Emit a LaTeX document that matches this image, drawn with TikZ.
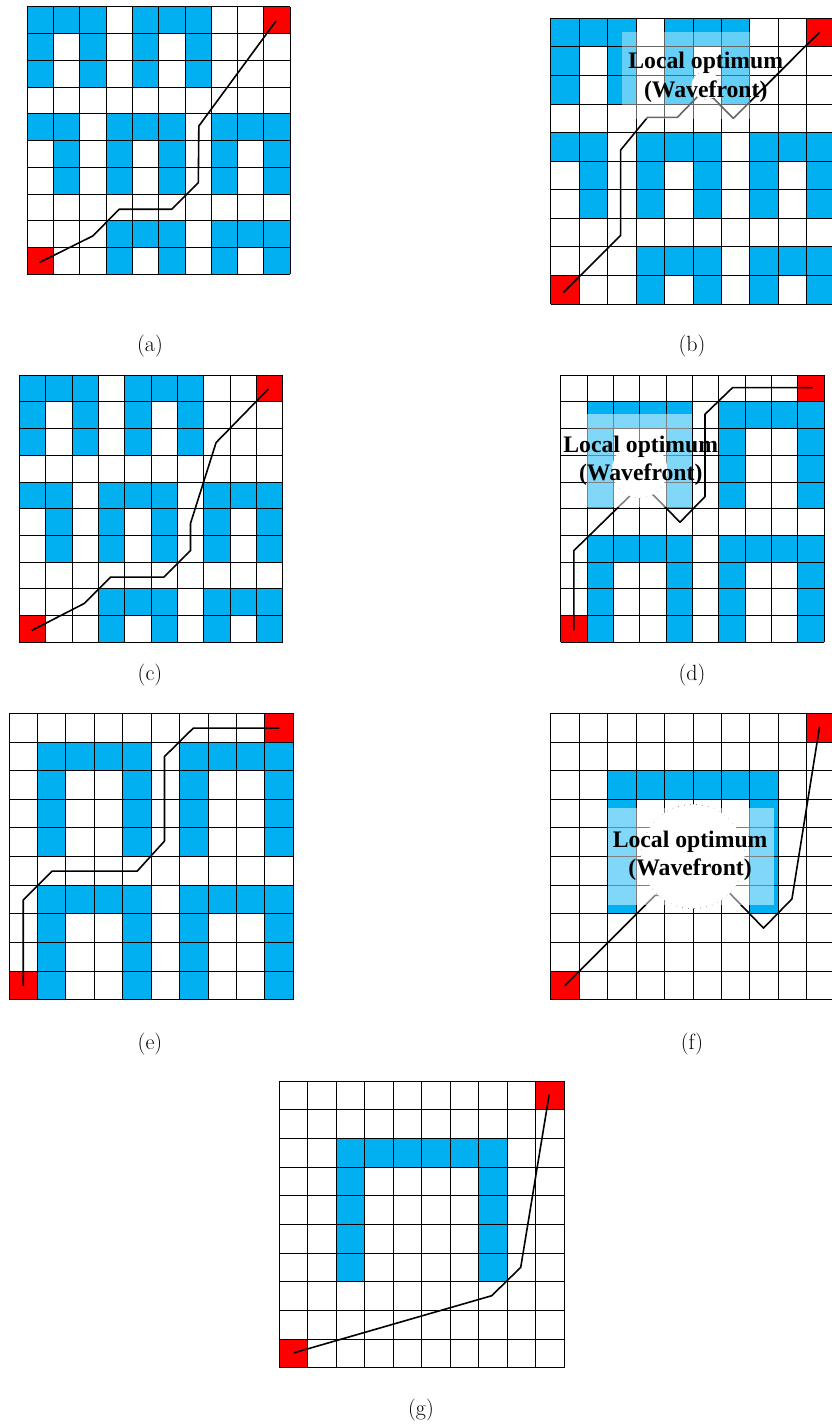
\documentclass[tikz,border=0pt]{standalone}
\usepackage{fontspec}
\newfontfamily\lblfont{Liberation Serif}
\definecolor{cellblue}{RGB}{0,176,240}
\definecolor{cellred}{RGB}{255,0,0}
\tikzset{
  bluecell/.style={fill=cellblue},
  redcell/.style={fill=cellred},
  gridln/.style={draw=black, line width=0.8pt},
  pathln/.style={draw=black, line width=1.6pt, line join=round},
  haze/.style={fill=white, fill opacity=0.5},
  optcircle/.style={fill=white, draw=gray, line width=1pt, dash pattern=on 0.01pt off 6pt, line cap=round},
  optlabel/.style={font=\lblfont\bfseries\fontsize{23.7}{28.3}\selectfont, align=center, text=black, inner sep=0pt},
  caption/.style={font=\fontsize{22}{26}\selectfont, inner sep=0pt},
}
\newcommand\fillrows[1]{\foreach \r/\cs in {#1}{\foreach \c in \cs {\fill[bluecell] (\c-1,10-\r) rectangle (\c,11-\r);}}}
\newcommand\redcorners{\fill[redcell] (0,0) rectangle (1,1); \fill[redcell] (9,9) rectangle (10,10);}
\newcommand\gridlines{\foreach \i in {0,...,10}{\draw[gridln] (\i,0) -- (\i,10); \draw[gridln] (0,\i) -- (10,\i);}}
\newcommand\patA{\fillrows{1/{1,2,3,5,6,7},2/{1,3,5,7},3/{1,3,5,7},5/{1,2,4,5,6,8,9,10},6/{2,4,6,8,10},7/{2,4,6,8,10},9/{4,5,6,8,9,10},10/{4,6,8,10}}}
\newcommand\patD{\fillrows{2/{2,3,4,5,7,8,9,10},3/{2,5,7,10},4/{2,5,7,10},5/{2,5,7,10},7/{2,3,4,5,7,8,9,10},8/{2,5,7,10},9/{2,5,7,10},10/{2,5,7,10}}}
\newcommand\patF{\fillrows{3/{3,4,5,6,7,8},4/{3,8},5/{3,8},6/{3,8},7/{3,8}}}
\begin{document}
\begin{tikzpicture}
\useasboundingbox (0,0) rectangle (831pt,1428pt);
\fill[white] (0,0) rectangle (831pt,1428pt);

% (a)
\begin{scope}[shift={(27.3pt,1153.7pt)}, x=26.27pt, y=26.76pt]
  \patA \redcorners \gridlines
  \draw[pathln] (0.46,0.44) -- (2.49,1.43) -- (3.5,2.43) -- (5.5,2.43) -- (6.51,3.42) -- (6.53,5.54) -- (9.47,9.47);
\end{scope}

% (b)
\begin{scope}[shift={(550.7pt,1124pt)}, x=28.45pt, y=28.57pt]
  \patA \redcorners \gridlines
  \draw[pathln] (0.45,0.4) -- (2.46,2.4) -- (2.46,5.39) -- (3.4,6.53) -- (4.45,6.53) -- (5.2,7.3) -- (5.72,7.2) -- (6.42,6.5) -- (9.0,9.07) -- (9.45,9.5);
  \path[optcircle] (5.45,7.65) circle (0.5);
  \fill[white, fill opacity=0.4] (2.5,6.48) rectangle (7,9.52);
  \node[optlabel] (lblb) at (5.45,7.93) {Local optimum\\(Wavefront)};
\end{scope}

% (c)
\begin{scope}[shift={(19.3pt,785.7pt)}, x=26.34pt, y=26.73pt]
  \patA \redcorners \gridlines
  \draw[pathln] (0.47,0.44) -- (2.46,1.45) -- (3.47,2.44) -- (5.49,2.44) -- (6.5,3.43) -- (6.5,4.45) -- (7.47,7.47) -- (9.46,9.48);
\end{scope}

% (d)
\begin{scope}[shift={(560.7pt,785.7pt)}, x=26.33pt, y=26.73pt]
  \patD \redcorners \gridlines
  \draw[pathln] (0.5,0.45) -- (0.5,3.43) -- (2.6,5.45) -- (3.05,5.9) -- (3.58,5.45) -- (4.53,4.49) -- (5.48,5.45) -- (5.48,8.53) -- (6.53,9.53) -- (9.57,9.53);
  \path[optcircle] (3,6.45) circle (1.05);
  \fill[haze] (1,5.05) rectangle (5,8.55);
  \node[optlabel] (lbld) at (3.04,6.8) {Local optimum\\(Wavefront)};
\end{scope}

% (e)
\begin{scope}[shift={(9pt,428.3pt)}, x=28.43pt, y=28.64pt]
  \patD \redcorners \gridlines
  \draw[pathln] (0.5,0.48) -- (0.5,3.48) -- (1.52,4.49) -- (4.51,4.49) -- (5.47,5.54) -- (5.47,8.49) -- (6.48,9.48) -- (9.51,9.48);
\end{scope}

% (f)
\begin{scope}[shift={(550.7pt,428.3pt)}, x=28.45pt, y=28.64pt]
  \patF \redcorners \gridlines
  \draw[pathln] (0.5,0.49) -- (3.67,3.64) -- (6.25,3.76) -- (7.48,2.5) -- (8.48,3.52) -- (9.45,9.53);
  \path[optcircle] (5,5) circle (1.82);
  \fill[haze] (2,3.31) rectangle (7.85,6.68);
  \node[optlabel] (lblf) at (4.9,5.02) {Local optimum\\(Wavefront)};
\end{scope}

% (g)
\begin{scope}[shift={(279.3pt,60.3pt)}, x=28.47pt, y=28.67pt]
  \patF \redcorners \gridlines
  \draw[pathln] (0.52,0.52) -- (7.46,2.51) -- (8.48,3.5) -- (9.48,9.53);
\end{scope}

\node[caption] (capa) at (150pt,1081.5pt) {(a)};
\node[caption] (capb) at (692pt,1081.5pt) {(b)};
\node[caption] (capc) at (150pt,753pt) {(c)};
\node[caption] (capd) at (692pt,753pt) {(d)};
\node[caption] (cape) at (150pt,384pt) {(e)};
\node[caption] (capf) at (692pt,384pt) {(f)};
\node[caption] (capg) at (421pt,18pt) {(g)};
\end{tikzpicture}
\end{document}
